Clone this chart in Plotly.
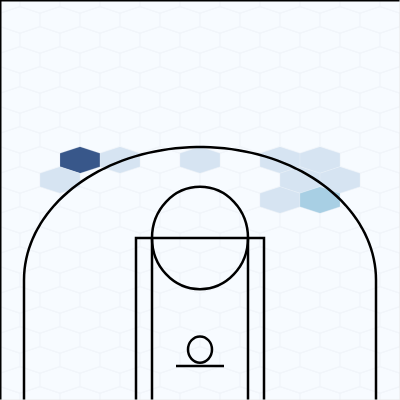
import numpy as np
import plotly.graph_objects as go
from plotly.colors import sample_colorscale

# hexbin des tirs (coordonnees NBA, dixiemes de pied, panier en 0,0)
hex_x = [-150, -100, 0, 100, 150, -175, 125, 175, 100, 150]
hex_y = [237.5, 237.5, 237.5, 237.5, 237.5, 212.5, 212.5, 212.5, 187.5, 187.5]
hex_count = [4, 1, 1, 1, 1, 1, 1, 1, 1, 2]

colorscale = [[0, "#f7fbff"], [0.25, "#d6e4f2"], [0.5, "#a8cfe4"], [1, "#38578a"]]

# taille des hexagones (pointe en haut)
HW = 25.0       # demi-largeur
HH = 16.667     # demi-hauteur


def hex_path(cx, cy):
    xs = [cx, cx + HW, cx + HW, cx, cx - HW, cx - HW, cx, None]
    ys = [cy + HH, cy + HH / 2, cy - HH / 2, cy - HH, cy - HH / 2, cy + HH / 2, cy + HH, None]
    return xs, ys


fig = go.Figure()

# grille des cases vides
gx, gy = [], []
for k in range(-10, 14):
    y = 237.5 - 25 * k
    off = 0 if k % 2 == 0 else 25
    for m in range(-6, 7):
        xs, ys = hex_path(m * 50 + off, y)
        gx += xs
        gy += ys
fig.add_trace(go.Scatter(x=gx, y=gy, mode="lines", line=dict(color="#f1f5fa", width=1),
                         hoverinfo="skip", showlegend=False))

# cases avec des tirs
cmax = max(hex_count)
colors = sample_colorscale(colorscale, [c / cmax for c in hex_count])
for cx, cy, col in zip(hex_x, hex_y, colors):
    xs, ys = hex_path(cx, cy)
    fig.add_trace(go.Scatter(x=xs, y=ys, mode="lines", fill="toself", fillcolor=col,
                             line=dict(color="rgba(255,255,255,0.3)", width=0.5),
                             hoverinfo="skip", showlegend=False))

# terrain
lw = 2.5
court = dict(color="black", width=lw)
shapes = [
    dict(type="rect", x0=-80, y0=-80, x1=80, y1=140, line=court),
    dict(type="line", x0=-60, y0=-80, x1=-60, y1=140, line=court),
    dict(type="line", x0=60, y0=-80, x1=60, y1=140, line=court),
    dict(type="circle", x0=-60, y0=76, x1=60, y1=204, line=court),
    dict(type="circle", x0=-15, y0=-16, x1=15, y1=17, line=court),
    dict(type="line", x0=-30, y0=-20, x1=30, y1=-20, line=court),
    dict(type="line", x0=-220, y0=-80, x1=-220, y1=87.5, line=court),
    dict(type="line", x0=220, y0=-80, x1=220, y1=87.5, line=court),
]
t = np.linspace(np.pi, 0, 80)
ax = 220 * np.cos(t)
ay = 87.5 + 166.25 * np.sin(t)
arc = "M " + " L ".join(f"{a:.2f},{b:.2f}" for a, b in zip(ax, ay))
shapes.append(dict(type="path", path=arc, line=court))

# cadre
shapes += [
    dict(type="line", xref="paper", yref="paper", x0=0, y0=1, x1=1, y1=1, line=dict(color="black", width=3)),
    dict(type="line", xref="paper", yref="paper", x0=0, y0=0, x1=0, y1=1, line=dict(color="black", width=3)),
    dict(type="line", xref="paper", yref="paper", x0=1, y0=0, x1=1, y1=1, line=dict(color="#e6e6e6", width=1)),
    dict(type="line", xref="paper", yref="paper", x0=0, y0=0, x1=1, y1=0, line=dict(color="#e6e6e6", width=1)),
]

fig.update_layout(
    width=400, height=400,
    margin=dict(l=0, r=0, t=0, b=0),
    plot_bgcolor="#f7fbff", paper_bgcolor="#f7fbff",
    shapes=shapes,
    showlegend=False,
)
fig.update_xaxes(range=[-250, 250], visible=False, fixedrange=True)
fig.update_yaxes(range=[-62.5, 437.5], visible=False, fixedrange=True)

fig.write_html("out.html", config={"displayModeBar": False},
               post_script="document.body.style.margin='0';")
